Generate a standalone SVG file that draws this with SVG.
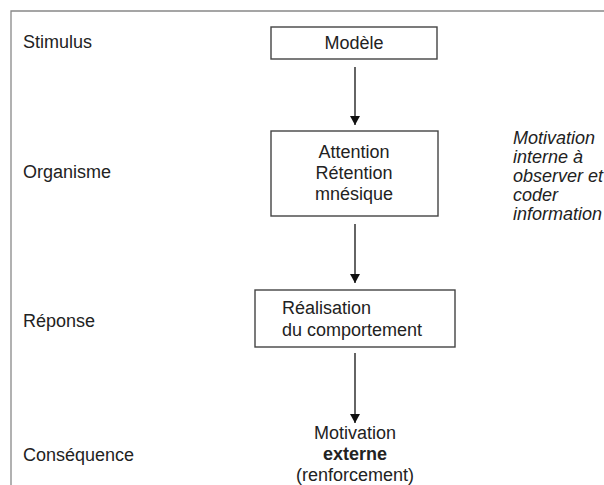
<svg xmlns="http://www.w3.org/2000/svg" width="604" height="485" viewBox="0 0 604 485">
<style>
text{font-family:"Liberation Sans",Arial,sans-serif;font-size:18px;fill:#222}
.c{text-anchor:middle}
.i{font-style:italic}
.b{font-weight:bold}
.box{fill:#fff;stroke:#444;stroke-width:1.4}
.conn{stroke:#111;stroke-width:1.3;fill:none}
</style>
<defs>
<marker id="ah" markerWidth="10" markerHeight="10" refX="9" refY="5" orient="auto" markerUnits="userSpaceOnUse">
<path d="M0,0 L9,5 L0,10 Z" fill="#111"/>
</marker>
</defs>
<rect width="604" height="485" fill="#fff"/>
<g id="frame"><path d="M11,485 V11 H604" fill="none" stroke="#888" stroke-width="1.3"/></g>
<g id="labels">
<text x="23" y="48">Stimulus</text>
<text x="23" y="178">Organisme</text>
<text x="23" y="327">Réponse</text>
<text x="23" y="461">Conséquence</text>
</g>
<g id="modele"><rect class="box" x="271" y="27" width="166" height="32"/><text class="c" x="354" y="49">Modèle</text></g>
<g id="attention"><rect class="box" x="271" y="131" width="167" height="85"/>
<text class="c" x="354" y="158">Attention</text><text class="c" x="354" y="179">Rétention</text><text class="c" x="354" y="200">mnésique</text></g>
<g id="motivation-interne">
<text class="i" x="513" y="144">Motivation</text><text class="i" x="513" y="163">interne à</text><text class="i" x="513" y="182">observer et</text><text class="i" x="513" y="201">coder</text><text class="i" x="513" y="220">information</text></g>
<g id="realisation"><rect class="box" x="255" y="290" width="200" height="57"/>
<text x="282" y="314">Réalisation</text><text x="282" y="336">du comportement</text></g>
<g id="motivation-externe">
<text class="c" x="355" y="439">Motivation</text><text class="c b" x="355" y="460">externe</text><text class="c" x="355" y="481">(renforcement)</text></g>
<g id="connectors">
<line class="conn" x1="355" y1="67" x2="355" y2="125" marker-end="url(#ah)"/>
<line class="conn" x1="355" y1="353" x2="355" y2="423" marker-end="url(#ah)"/>
<line class="conn" x1="355" y1="224" x2="355" y2="283" marker-end="url(#ah)"/>
</g>
</svg>
